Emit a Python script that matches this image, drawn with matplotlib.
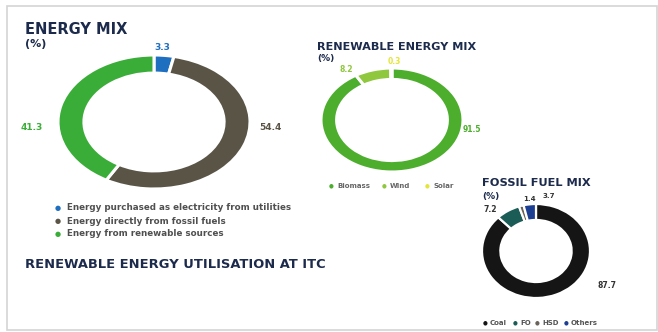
import matplotlib.pyplot as plt
from matplotlib.patches import Rectangle

# データ
energy_labels = ['Energy purchased as electricity from utilities',
                 'Energy directly from fossil fuels',
                 'Energy from renewable sources']
energy_values = [3.3, 54.4, 41.3]
energy_colors = ['#1f6fc0', '#5a5447', '#3aad38']

renew_labels = ['Biomass', 'Wind', 'Solar']
renew_values = [91.5, 8.2, 0.3]
renew_colors = ['#4cae2c', '#8fc73e', '#e4e53a']

fossil_labels = ['Coal', 'FO', 'HSD', 'Others']
fossil_values = [87.7, 7.2, 1.4, 3.7]
fossil_colors = ['#151515', '#1c5c57', '#6a6359', '#1d3f92']

W, H = 658, 332
fig = plt.figure(figsize=(W / 100, H / 100), dpi=100)
fig.patch.set_facecolor('white')
navy = '#1c2a4c'


def px(x, y):
    return x / W, 1 - y / H


def donut(cx, cy, rx, ry, values, colors, width, lw=2.2):
    ax = fig.add_axes([(cx - rx) / W, 1 - (cy + ry) / H, 2 * rx / W, 2 * ry / H])
    ax.pie(values, colors=colors, startangle=90, counterclock=False,
           wedgeprops=dict(width=width, edgecolor='white', linewidth=lw))
    ax.set_aspect('auto')
    ax.set_xlim(-1, 1)
    ax.set_ylim(-1, 1)
    ax.axis('off')
    return ax


def ftext(x, y, s, **kw):
    fig.text(*px(x, y), s, **kw)


# 外枠
fig.add_artist(Rectangle(px(7, 330), 650 / W, 324 / H, transform=fig.transFigure,
                         fill=False, edgecolor='#d4d4d4', linewidth=1.2))

# エネルギーミックス
donut(154, 122, 96, 67, energy_values, energy_colors, 0.27)
ftext(25, 29, 'ENERGY MIX', fontsize=10.5, fontweight='bold', color=navy, va='center')
ftext(25, 44, '(%)', fontsize=8, fontweight='bold', color=navy, va='center')
ftext(162, 47, '3.3', fontsize=6.5, fontweight='bold', color=energy_colors[0], ha='center', va='center')
ftext(270, 127, '54.4', fontsize=6.5, fontweight='bold', color=energy_colors[1], ha='center', va='center')
ftext(32, 127, '41.3', fontsize=6.5, fontweight='bold', color=energy_colors[2], ha='center', va='center')
for i, (lab, col) in enumerate(zip(energy_labels, energy_colors)):
    y = 208 + i * 13
    ftext(58, y, '●', fontsize=5, color=col, ha='center', va='center')
    ftext(67, y, lab, fontsize=6.3, fontweight='bold', color='#505050', va='center')

ftext(25, 265, 'RENEWABLE ENERGY UTILISATION AT ITC', fontsize=9.4,
      fontweight='bold', color=navy, va='center')

# 再生可能エネルギーミックス
donut(392, 120, 71, 52, renew_values, renew_colors, 0.22)
ftext(317, 47, 'RENEWABLE ENERGY MIX', fontsize=8.1, fontweight='bold', color=navy, va='center')
ftext(317, 58, '(%)', fontsize=6.5, fontweight='bold', color=navy, va='center')
ftext(472, 130, '91.5', fontsize=5.5, fontweight='bold', color=renew_colors[0], ha='center', va='center')
ftext(346, 69, '8.2', fontsize=5.5, fontweight='bold', color=renew_colors[1], ha='center', va='center')
ftext(394, 62, '0.3', fontsize=5.5, fontweight='bold', color=renew_colors[2], ha='center', va='center')
for lab, col, x in zip(renew_labels, renew_colors, [331, 384, 427]):
    ftext(x, 186, '●', fontsize=4, color=col, ha='center', va='center')
    ftext(x + 6, 186, lab, fontsize=5, fontweight='bold', color='#666666', va='center')

# 化石燃料ミックス
donut(536, 251, 54, 47, fossil_values, fossil_colors, 0.34, lw=1.6)
ftext(482, 183, 'FOSSIL FUEL MIX', fontsize=8.2, fontweight='bold', color=navy, va='center')
ftext(482, 196, '(%)', fontsize=6.5, fontweight='bold', color=navy, va='center')
ftext(607, 285, '87.7', fontsize=5.5, fontweight='bold', color='#333333', ha='center', va='center')
ftext(490, 210, '7.2', fontsize=5.5, fontweight='bold', color='#333333', ha='center', va='center')
ftext(530, 199, '1.4', fontsize=5, fontweight='bold', color='#333333', ha='center', va='center')
ftext(549, 196, '3.7', fontsize=5, fontweight='bold', color='#333333', ha='center', va='center')
for lab, col, x in zip(fossil_labels, fossil_colors, [485, 515, 537, 566]):
    ftext(x, 323, '●', fontsize=4, color=col, ha='center', va='center')
    ftext(x + 5, 323, lab, fontsize=5, fontweight='bold', color='#555555', va='center')

fig.savefig('out.png', dpi=100, facecolor='white')
